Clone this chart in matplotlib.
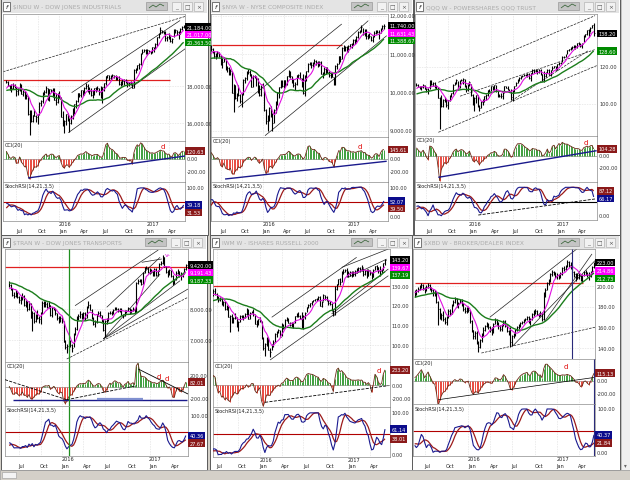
import numpy as np
import pandas as pd
import matplotlib
matplotlib.use("Agg")
import matplotlib.pyplot as plt
from matplotlib.patches import Rectangle
import matplotlib.transforms as mtrans

plt.rcParams['font.family'] = ['DejaVu Sans']
plt.rcParams['lines.solid_capstyle'] = 'butt'

W, H = 630, 481
dates = pd.date_range('2015-05-22', periods=108, freq='W-FRI')

# ---------------- DATA ----------------
indu_cl = [18232,18011,17849,17898,18015,17947,17730,17760,18086,17568,
 17690,17373,17477,16460,16643,16102,16433,16385,16315,16472,
 17084,17216,17647,17664,17910,17245,17824,17798,17848,17265,
 17128,17553,17425,16346,15988,16094,16466,16205,15974,16392,
 16640,17007,17213,17602,17516,17793,17577,17898,18004,17774,
 17741,17535,17501,17873,17807,17865,17675,17400,17949,18147,
 18516,18570,18432,18543,18576,18552,18395,18492,18085,18124,
 18261,18308,18240,18138,18146,18161,17888,18847,18868,19152,
 19171,19757,19843,19934,19763,19964,19886,19827,20094,20071,
 20269,20624,20822,21006,20903,20915,20597,20663,20656,20453,
 20548,20941,21007,20897,20804,21080,21206,21184]
indu_hi = [18351,18260,18050,18100,18150,18110,17960,17900,18140,18120,
 17760,17720,17560,17460,16710,16680,16450,16750,16450,16490,
 17120,17270,17650,17800,17980,17890,17830,17840,17880,17870,
 17620,17600,17720,17430,16630,16170,16510,16520,16260,16450,
 16800,17050,17220,17630,17630,17800,17800,17920,18170,18100,
 17950,17900,17760,17890,17940,18000,17910,18010,17950,18150,
 18540,18620,18620,18580,18670,18620,18600,18500,18530,18270,
 18360,18360,18360,18240,18200,18260,18180,18930,18950,19160,
 19230,19780,19990,19990,19990,19990,19970,19910,20130,20130,
 20300,20640,20850,21170,21010,21000,20980,20720,20890,20690,
 20600,21070,21070,21010,21000,21110,21230,21300]
indu_lo = [18160,17990,17800,17700,17850,17900,17470,17490,17720,17560,
 17460,17290,17290,16450,15370,16050,16030,16360,16040,15940,
 16440,16900,17080,17530,17620,17230,17210,17650,17430,17250,
 16990,17100,17370,16310,15840,15450,15870,16100,15500,15960,
 16200,16500,16830,17150,17430,17380,17480,17500,17850,17660,
 17570,17470,17330,17500,17650,17770,17530,17360,17060,17710,
 18080,18440,18310,18310,18460,18440,18320,18310,18080,17990,
 18050,18060,18180,17960,17980,18040,17880,17890,18700,18860,
 18940,19160,19740,19840,19720,19680,19810,19730,19790,19830,
 20000,20180,20580,20800,20840,20820,20410,20410,20550,20380,
 20300,20660,20880,20780,20550,20800,21050,21110]
indu_pre = [17390,17573,17634,17810,17828,17720,17280,17805,18053,17833,
 17737,17320,17511,17165,17673,17824,17973,18140,18133,17856,
 17995,17749,17712,17191,17577,17763,17826,18192,18272]

nya_cl = [11130,11050,10940,10950,11020,10960,10820,10800,10870,10600,
 10630,10500,10560,9990,10200,9860,9960,9930,9780,9950,
 10330,10370,10530,10520,10470,10150,10420,10400,10350,10000,
 9940,10150,10140,9530,9240,9380,9600,9430,9210,9530,
 9700,10000,10130,10300,10170,10310,10220,10420,10530,10420,
 10300,10200,10220,10440,10460,10380,10250,9990,10420,10550,
 10740,10770,10720,10770,10810,10790,10700,10790,10480,10490,
 10620,10640,10540,10460,10480,10400,10230,10690,10740,10940,
 10880,11160,11120,11170,11080,11220,11250,11240,11360,11350,
 11440,11580,11610,11700,11530,11630,11460,11490,11470,11360,
 11460,11550,11610,11580,11560,11660,11720,11740]
nya_hi = [11230,11160,11080,11030,11080,11060,10980,10900,10920,10880,
 10690,10660,10600,10560,10220,10200,9990,10180,9960,9970,
 10350,10400,10560,10620,10580,10480,10450,10460,10420,10370,
 10180,10180,10250,10120,9560,9400,9620,9650,9470,9560,
 9760,10020,10140,10330,10320,10330,10330,10430,10590,10560,
 10420,10350,10260,10450,10490,10520,10380,10480,10440,10560,
 10760,10800,10790,10800,10860,10840,10830,10810,10810,10540,
 10650,10660,10670,10560,10510,10520,10410,10710,10760,10950,
 10950,11170,11230,11200,11200,11240,11260,11280,11390,11380,
 11460,11590,11630,11760,11690,11660,11640,11520,11550,11480,
 11480,11590,11630,11630,11620,11680,11750,11790]
nya_lo = [11080,11020,10900,10860,10920,10910,10700,10640,10780,10590,
 10520,10450,10440,9980,9480,9830,9760,9900,9720,9620,
 9930,10250,10330,10470,10420,10130,10140,10370,10170,9980,
 9900,9910,10100,9500,9160,8980,9250,9350,9000,9200,
 9450,9680,9860,10100,10150,10110,10150,10180,10400,10380,
 10230,10150,10060,10200,10370,10370,10150,9960,9900,10300,
 10540,10700,10640,10650,10750,10720,10670,10680,10470,10370,
 10460,10490,10500,10400,10380,10390,10200,10190,10620,10740,
 10800,10870,11080,11090,11060,11060,11170,11160,11230,11250,
 11320,11430,11540,11580,11490,11480,11400,11400,11420,11330,
 11300,11440,11520,11540,11380,11560,11650,11660]
nya_pre = [10830,10900,10950,10990,11010,10880,10600,10900,10920,10810,
 10700,10450,10640,10500,10810,10960,11000,11060,11050,10900,
 11030,10840,10850,10630,10900,11020,10980,11140,11190]

qqq_cl = [110.5,109.2,108.6,108.9,110.0,108.0,107.9,107.3,112.4,110.6,
 111.5,109.0,109.6,103.2,103.1,99.0,102.3,101.8,99.4,101.9,
 104.3,105.9,110.4,111.1,112.9,108.5,112.9,113.1,113.5,109.6,
 107.6,110.2,111.9,104.6,101.1,103.3,104.6,99.0,97.6,101.3,
 102.0,104.3,104.9,107.3,107.1,109.5,108.1,110.1,106.9,104.3,
 104.5,104.1,106.0,109.6,108.7,108.0,106.5,103.8,107.3,109.7,
 111.4,113.3,113.8,115.1,115.3,115.6,115.4,116.2,113.8,116.5,
 118.2,118.0,118.1,117.4,118.3,116.1,112.6,115.3,117.0,118.5,
 115.9,118.4,119.5,120.4,118.5,121.4,122.4,122.4,125.3,125.6,
 127.0,128.9,129.6,130.4,130.8,131.5,131.2,132.8,132.6,131.2,
 132.6,136.6,137.7,139.7,138.4,141.2,142.4,138.2]
qqq_hi = [111.4,110.8,109.6,109.5,110.7,110.4,108.7,108.5,112.8,113.1,
 111.7,112.0,110.0,109.2,103.8,104.6,102.7,104.0,102.8,102.3,
 104.7,106.0,110.6,112.0,113.4,112.6,113.1,113.7,114.0,113.3,
 110.3,110.6,112.5,111.0,105.5,103.6,104.8,105.0,99.5,101.6,
 102.7,104.5,105.2,107.8,107.9,109.7,109.5,110.4,110.5,107.2,
 105.3,106.0,106.2,109.7,109.9,109.6,108.1,108.2,107.5,109.8,
 111.6,113.6,114.3,115.3,115.6,116.0,116.2,116.5,116.9,116.8,
 118.8,118.9,118.9,118.6,118.7,118.7,116.2,117.7,117.5,118.8,
 119.0,118.6,120.5,120.6,120.7,121.8,122.6,122.7,125.7,125.9,
 127.2,129.1,129.8,131.0,131.2,131.6,132.1,133.0,133.5,133.1,
 133.1,137.2,137.8,140.0,140.4,141.4,142.8,143.6]
qqq_lo = [109.8,108.9,108.0,107.8,108.6,107.9,106.5,105.3,108.2,110.4,
 109.6,108.5,108.2,103.1,86.5,98.2,98.5,100.9,98.6,97.4,
 101.8,103.8,105.4,110.0,110.8,108.3,108.6,112.6,110.7,109.4,
 106.7,107.0,109.8,104.3,99.2,96.1,100.4,98.6,96.1,98.0,
 99.5,101.2,102.3,104.4,106.5,106.8,107.4,107.6,106.5,104.0,
 103.6,103.4,102.8,106.2,108.4,107.6,106.2,102.1,101.6,106.6,
 109.5,111.3,112.5,113.4,114.8,114.9,114.9,114.8,113.7,112.6,
 116.3,116.9,117.5,116.4,116.8,115.9,112.4,111.8,114.5,116.9,
 115.5,115.2,118.1,119.3,118.3,118.4,121.2,121.4,122.6,124.6,
 125.2,126.9,128.5,128.9,129.7,130.2,129.8,130.5,131.8,130.8,
 130.3,133.4,136.3,137.3,136.2,138.7,140.9,136.6]
qqq_pre = [99.7,101.1,101.6,103.5,104.8,105.0,103.2,104.7,106.0,104.4,
 103.2,101.5,102.9,101.6,104.1,104.9,106.0,108.4,108.5,107.0,
 108.4,106.3,106.4,104.0,107.2,108.9,108.4,108.8,110.1]

tran_cl = [8780,8650,8450,8430,8520,8380,8280,8330,8420,8140,
 8250,8000,8190,7720,7880,7620,7800,7700,7680,7860,
 8200,8100,8170,8080,8120,7800,8030,8010,7860,7700,
 7620,7700,7600,6950,6780,6790,6920,6840,6730,7200,
 7370,7750,7780,7850,7720,7880,7700,8050,8120,7980,
 7700,7500,7580,7830,7860,7800,7620,7320,7620,7630,
 7860,7880,7850,7980,8030,8000,7950,8010,7820,7780,
 7930,7950,8020,7880,7970,8010,7900,8850,8900,8950,
 8800,9170,9320,9320,9180,9290,9200,9100,9290,9110,
 9230,9450,9480,9690,9380,9180,9120,9260,9080,8830,
 8950,9170,9210,9060,9060,9140,9280,9420]
tran_hi = [8900,8800,8690,8560,8610,8560,8420,8420,8500,8450,
 8300,8270,8250,8200,7920,7890,7850,7960,7780,7900,
 8250,8260,8260,8240,8260,8130,8070,8080,8040,7880,
 7760,7760,7780,7620,7000,6880,6960,7010,6870,7220,
 7420,7780,7850,7920,7880,7900,7900,8100,8250,8150,
 8000,7750,7640,7850,7920,7950,7810,7680,7650,7700,
 7890,7940,7930,8000,8060,8060,8040,8040,8040,7850,
 7960,7980,8070,8030,7990,8050,8030,8880,8980,8980,
 8960,9200,9360,9390,9350,9330,9290,9230,9330,9310,
 9260,9480,9540,9740,9690,9400,9250,9290,9270,9090,
 8980,9230,9280,9220,9180,9170,9310,9460]
tran_lo = [8720,8600,8420,8360,8390,8340,8200,8160,8300,8110,
 8080,7950,7980,7700,7280,7560,7580,7680,7560,7520,
 7850,8060,8050,8040,8020,7780,7750,7970,7820,7650,
 7560,7580,7550,6940,6700,6580,6660,6780,6620,6780,
 7150,7330,7650,7720,7690,7660,7650,7700,8020,7960,
 7680,7470,7420,7550,7780,7750,7580,7300,7100,7530,
 7620,7830,7790,7840,7960,7960,7900,7900,7800,7700,
 7760,7860,7930,7850,7860,7920,7880,7900,8820,8860,
 8760,8800,9150,9280,9150,9130,9150,9060,9080,9080,
 9080,9230,9420,9450,9350,9150,9040,9100,9040,8780,
 8800,8940,9130,9030,8950,9030,9120,9260]
tran_pre = [8560,8730,8900,8990,9110,9100,8870,9140,9200,9000,
 8900,8600,8770,8620,8860,8870,8980,9100,9050,8860,
 8940,8700,8650,8450,8570,8660,8540,8750,8800]

iwm_cl = [126.5,124.6,124.6,125.2,127.6,126.0,124.6,123.0,123.2,120.5,
 122.0,118.6,119.8,114.3,115.0,112.1,114.0,113.9,109.9,111.9,
 114.6,115.0,114.4,115.7,118.4,113.5,116.5,117.1,116.0,111.0,
 110.8,113.2,112.6,103.7,98.5,100.5,103.2,97.7,96.6,100.7,
 101.6,105.8,106.9,107.9,104.2,111.0,108.6,112.8,113.7,111.5,
 110.4,110.6,111.1,114.8,116.2,114.7,114.0,109.7,115.0,116.6,
 119.4,120.5,121.2,122.5,122.8,123.2,123.2,124.6,120.1,122.0,
 125.4,124.2,122.7,121.2,121.1,117.8,115.6,128.6,130.8,133.4,
 131.8,137.3,136.9,138.3,134.9,136.6,137.0,135.3,136.9,137.5,
 138.0,139.2,138.8,139.5,135.9,137.7,135.3,137.9,136.4,134.5,
 138.2,140.0,139.5,137.7,137.5,138.3,141.5,143.2]
iwm_hi = [128.0,126.9,125.2,125.8,128.5,129.1,126.3,124.8,124.2,123.8,
 122.4,122.3,120.2,120.1,115.3,115.8,114.5,116.6,114.3,112.2,
 115.4,115.5,115.5,116.4,118.8,118.3,116.8,117.4,118.5,116.1,
 113.0,113.5,114.4,112.3,104.3,101.2,104.0,104.4,98.8,100.9,
 102.7,106.4,107.3,108.5,108.0,111.4,111.0,113.1,114.2,113.9,
 111.8,111.8,111.4,115.0,116.6,117.0,115.4,117.0,115.2,116.8,
 119.6,120.7,121.6,122.6,123.1,123.5,124.0,124.9,124.9,122.3,
 126.0,125.6,125.0,122.8,122.4,121.6,118.0,130.0,131.0,133.6,
 134.0,137.6,138.5,138.7,139.0,137.8,137.4,137.4,137.8,138.1,
 138.9,139.7,139.8,140.8,139.3,138.2,138.4,138.7,138.2,137.0,
 138.5,140.3,140.6,139.6,139.9,138.6,141.8,143.6]
iwm_lo = [125.2,124.3,123.6,124.0,125.0,125.6,123.2,121.8,122.6,120.3,
 119.9,117.9,117.7,114.2,106.8,111.3,111.5,113.3,109.5,107.4,
 111.7,113.9,112.9,113.9,115.6,113.2,113.1,116.4,114.9,110.6,
 109.4,110.2,111.9,103.4,97.9,94.8,99.6,97.5,94.1,97.5,
 99.4,101.5,104.4,106.1,104.0,104.6,108.1,108.7,112.2,111.1,
 109.6,109.4,108.7,111.4,114.3,114.5,113.1,109.0,108.3,113.5,
 116.7,119.0,119.6,120.4,122.0,122.4,122.6,122.8,120.0,119.2,
 122.4,122.8,122.3,120.4,120.4,117.6,114.9,115.2,127.9,130.6,
 130.6,131.9,136.0,137.2,134.6,134.4,135.2,134.6,135.2,135.3,
 136.7,137.8,137.2,137.7,135.2,135.4,134.1,134.9,135.5,133.4,
 134.5,138.0,137.9,136.8,134.9,136.6,138.2,140.7]
iwm_pre = [114,118,119,119,120,118,116,119,122,119,
 121,118,119,117,121,122,123,125,124,123,
 126,124,124,124,124,125,124,126,126]

xbd_cl = [193,195,197,199,201,198,196,199,201,197,
 196,193,194,185,178,170,172,168,165,170,
 176,174,182,185,188,181,184,186,183,178,
 176,178,177,166,158,152,155,146,141,148,
 153,158,161,163,160,158,156,163,167,164,
 161,159,162,166,161,157,155,146,152,153,
 158,160,162,164,165,167,168,170,165,168,
 173,175,176,173,172,174,168,192,196,203,
 205,212,214,213,210,211,209,212,218,217,
 220,224,221,220,214,212,208,211,210,207,
 211,214,213,211,210,214,219,223]
xbd_hi = [196,197,199,201,203,202,199,201,203,202,
 199,197,196,195,186,179,174,176,170,171,
 178,178,183,187,190,189,185,188,188,184,
 180,180,180,177,167,158,157,157,147,149,
 155,160,162,165,164,161,160,164,169,168,
 165,162,163,167,167,162,158,160,153,155,
 159,161,163,165,166,168,169,171,171,169,
 174,177,178,177,174,176,175,194,198,204,
 207,213,216,215,214,213,212,214,219,220,
 221,226,225,224,221,215,213,213,213,211,
 212,215,216,214,214,215,220,224]
xbd_lo = [190,192,194,196,198,196,193,195,198,196,
 194,191,191,184,162,168,167,166,163,162,
 169,172,173,181,184,180,179,184,181,176,
 174,174,175,164,156,149,149,144,136,140,
 146,152,157,160,159,156,153,155,163,162,
 159,157,157,161,160,156,153,141,142,150,
 152,157,159,160,163,164,166,167,164,162,
 167,171,173,172,170,171,166,167,190,196,
 201,204,210,211,208,207,207,208,211,215,
 216,219,219,217,212,209,205,207,207,205,
 204,210,211,209,206,209,213,218]
xbd_pre = [180,183,186,188,190,189,186,188,190,187,
 185,181,183,182,187,190,192,195,194,191,
 193,190,190,188,192,195,196,197,195]

titles = ["$INDU W - DOW JONES INDUSTRIALS",
          "$NYA W - NYSE COMPOSITE INDEX",
          "QQQ W - POWERSHARES QQQ TRUST",
          "$TRAN W - DOW JONES TRANSPORTS",
          "IWM W - ISHARES RUSSELL 2000",
          "$XBD W - BROKER/DEALER INDEX"]

# drawn trend lines: (bar0, value0, bar1, value1, style)
indu_lines = [(-2, 18768, 107.8, 21757, '--'), (39.4, 17638, 104.8, 21540, '-'),
              (37.4, 15476, 108.8, 20070, '-')]
nya_lines = [(16.9, 9608, 80.9, 11783, '-'), (33.4, 8867, 108.7, 11478, '-'),
             (77.8, 11130, 97.3, 11870, '-')]
qqq_lines = [(13.2, 111.7, 107.8, 147.7, '--'), (13.2, 84.7, 108.8, 120.7, '--'),
             (57.5, 101.8, 103.7, 128.8, '--'), (26.3, 104.2, 107.8, 129.4, '--')]
tran_lines = [(39.9, 8106, 90.3, 9903, '-'), (34.9, 6387, 108.3, 8377, '--'),
              (57.0, 7032, 91.4, 9129, '-'), (57.0, 7032, 103.5, 8913, '-'),
              (57.0, 7032, 108.3, 8645, '-'), (59.1, 8055, 91.4, 9668, '-'),
              (80.3, 9506, 92.4, 9613, '-')]
iwm_lines = [(39.1, 114.2, 90.0, 144.5, '-'), (38.1, 92.6, 109.0, 135.2, '-'),
             (81.0, 139.4, 109.0, 148.7, '-'), (85.0, 134.4, 108.0, 143.6, '-'),
             (75.0, 115.9, 109.0, 138.6, '-')]
xbd_lines = [(39.8, 135.2, 107.6, 160.2, '--'), (44.8, 169.9, 96.7, 236.2, '-'),
             (58.7, 142.3, 107.6, 224.9, '-'), (77.6, 166.0, 105.8, 231.4, '-')]

# support / resistance levels: (bar0, bar1, value)
indu_res = (-2, 98.7, 18308)
nya_res = (0.4, 80.9, 11227)
tran_res = (-2.5, 108.3, 9345)
iwm_res = (3.9, 110, 129.85)
xbd_res = (0.2, 100.4, 202.9)

# CCI trend lines: (bar0, v0, bar1, v1, color, style, width)
indu_cci_lines = [(13.1, -292, 107.8, 46, '#1a1a8c', '-', 1.0)]
nya_cci_lines = [(8.7, -308, 108.7, -35, '#1a1a8c', '-', 1.0)]
qqq_cci_lines = [(13.2, -349, 108.8, 77, '#1a1a8c', '-', 1.0)]
tran_cci_lines = [(2.3, -212, 107.5, -212, '#1a1a8c', '-', 1.0),
                  (53, -205, 81.2, -205, '#8090d0', '-', 1.6),
                  (-2.5, 122, 34.9, -212, 'black', '--', 0.6),
                  (34.9, -212, 77.2, 22, 'black', '--', 0.6),
                  (78.2, 300, 108.3, -117, 'black', '-', 0.6)]
iwm_cci_lines = [(35.1, -266, 109.0, -10, 'black', '--', 0.6)]
xbd_cci_lines = [(14.1, -292, 107.6, 52, 'black', '-', 0.5)]

# 'd' marks on CCI: (bar, value, text)
indu_marks = [(94.6, 200, 'd')]
nya_marks = [(92.2, 205, 'd')]
qqq_marks = [(102.2, 211, 'd')]
tran_marks = [(90.9, 188, 'd'), (95.4, 150, 'd')]
iwm_marks = [(103.0, 231, 'd')]
xbd_marks = [(90.3, 230, 'd')]

# --------------- FIGURE ---------------
fig = plt.figure(figsize=(W / 100, H / 100), dpi=100)
fig.patch.set_facecolor('#d4d0c8')
bg = fig.add_axes([0, 0, 1, 1])
bg.set_xlim(0, W)
bg.set_ylim(H, 0)
bg.axis('off')

def pax(x0, y0, x1, y1):
    return fig.add_axes([x0 / W, 1 - y1 / H, (x1 - x0) / W, (y1 - y0) / H])

def window(x0, y0, x1, y1, title):
    bg.add_patch(Rectangle((x0, y0), x1 - x0, y1 - y0, facecolor='white',
                           edgecolor='#5a5a5a', lw=0.7))
    bg.add_patch(Rectangle((x0 + 1, y0 + 1), x1 - x0 - 2, 13, facecolor='#e4e4e4',
                           edgecolor='none'))
    bg.add_patch(Rectangle((x0 + 2, y0 + 3), 7, 9, facecolor='white',
                           edgecolor='#444', lw=0.5))
    bg.text(x0 + 5.5, y0 + 7.6, 'f', fontsize=4.5, ha='center', va='center',
            style='italic', color='#111')
    bg.text(x0 + 12, y0 + 7.5, title, fontsize=4.2, color='#ababab',
            va='center', ha='left')
    bg.add_patch(Rectangle((x1 - 62, y0 + 3), 21, 8, facecolor='#c4c4c4',
                           edgecolor='#8a8a8a', lw=0.4))
    bg.plot([x1 - 59, x1 - 55, x1 - 52, x1 - 48, x1 - 44],
            [y0 + 9, y0 + 6, y0 + 8, y0 + 5, y0 + 7], color='#2a5a2a', lw=0.5)
    for k, sym in enumerate(['_', '□', '×']):
        bx = x1 - 36 + k * 11
        bg.add_patch(Rectangle((bx, y0 + 3), 9, 9, facecolor='#f2f2f2',
                               edgecolor='#a8a8a8', lw=0.4))
        bg.text(bx + 4.5, y0 + 7.3, sym, fontsize=4.2, ha='center', va='center',
                color='#555')

def style_ax(ax, xlim, ylim):
    ax.set_xlim(*xlim)
    ax.set_ylim(*ylim)
    ax.set_xticks([])
    ax.set_yticks([])
    ax.set_facecolor('white')
    for s in ax.spines.values():
        s.set_color('#8c8c8c')
        s.set_linewidth(0.5)

def rlabel(ax, v, s, width_px, color='#333', box=None, z=3):
    tr = mtrans.blended_transform_factory(ax.transAxes, ax.transData)
    kw = dict(fontsize=3.6, va='center', ha='left', clip_on=False, transform=tr, zorder=z)
    if box is None:
        ax.text(1 + 2.0 / width_px, v, s, color=color, **kw)
    else:
        ax.text(1 + 1.5 / width_px, v, s, color='white',
                bbox=dict(boxstyle='square,pad=0.25', fc=box, ec='none'), **kw)

def to_px(v, lim, top_px, bot_px):
    return top_px + (lim[1] - v) * (bot_px - top_px) / (lim[1] - lim[0])

def stack(vals, lim, top_px, bot_px, gap):
    # vals: list of (value, label, color) -> positions separated by gap px
    scale = (bot_px - top_px) / (lim[1] - lim[0])
    ys = [(to_px(v, lim, top_px, bot_px), s, c) for v, s, c in vals]
    ys.sort(key=lambda t: t[0])
    out, prev = [], None
    for y, s, c in ys:
        y = min(max(y, top_px + 4), bot_px - 4)
        if prev is not None:
            y = max(y, prev + gap)
        prev = y
        out.append((lim[1] - (y - top_px) / scale, s, c, y))
    return out

def tick_labels(ax, items, boxes_px, lim, top_px, bot_px, wpx):
    for v, s in items:
        yp = to_px(v, lim, top_px, bot_px)
        if all(abs(yp - b) > 6.5 for b in boxes_px):
            rlabel(ax, v, s, wpx)

qticks = []
for i in range(1, len(dates)):
    if dates[i].month != dates[i - 1].month and dates[i].month in (1, 4, 7, 10):
        qticks.append(i)
mon = {1: 'Jan', 4: 'Apr', 7: 'Jul', 10: 'Oct'}

def chart(g, cl, hi, lo, pre, lines, res, cci_lines, marks, fmt, pticks,
          mid_color='#b00000', show_mag=True, extra=None):
    cl = np.array(cl, float); hi = np.array(hi, float); lo = np.array(lo, float)
    n0 = len(pre)
    full = pd.Series(np.r_[pre, cl])
    ma_s = full.rolling(7).mean().values[n0:]
    ma_l = full.rolling(30).mean().values[n0:]
    tp = pd.Series(np.r_[pre, (hi + lo + cl) / 3.0])
    sma = tp.rolling(20).mean()
    md = tp.rolling(20).apply(lambda a: np.mean(np.abs(a - a.mean())), raw=True)
    cci = ((tp - sma) / (0.015 * md)).values[n0:]
    dlt = full.diff()
    au = dlt.clip(lower=0).ewm(alpha=1 / 14, adjust=False).mean()
    ad = (-dlt.clip(upper=0)).ewm(alpha=1 / 14, adjust=False).mean()
    rsi = 100 - 100 / (1 + au / ad)
    rmin = rsi.rolling(21, min_periods=8).min()
    rmax = rsi.rolling(21, min_periods=8).max()
    srsi = (rsi - rmin) / (rmax - rmin) * 100
    kf = srsi.rolling(3, min_periods=1).mean()
    ks = kf.rolling(5, min_periods=1).mean()
    kf = kf.values[n0:]; ks = ks.values[n0:]

    x = np.arange(len(cl))
    L, R = g['L'], g['R']
    wpx = R - L
    axp = pax(L, g['pt'], R, g['pb'])
    axc = pax(L, g['pb'], R, g['cb'])
    axs = pax(L, g['cb'], R, g['sb'])
    axd = pax(L, g['sb'], R, g['db'])
    style_ax(axp, g['xlim'], g['plim'])
    style_ax(axc, g['xlim'], g['clim'])
    style_ax(axs, g['xlim'], g['slim'])
    axd.set_xlim(*g['xlim']); axd.set_ylim(0, 1); axd.axis('off')

    for ax in (axp, axc, axs):
        for t in qticks:
            ax.axvline(t, color='#c4c4c4', lw=0.4, ls=(0, (1, 2)), zorder=0)
    for v in pticks:
        axp.axhline(v, color='#c4c4c4', lw=0.4, ls=(0, (1, 2)), zorder=0)

    # price
    axp.hlines(res[2], res[0], res[1], color='#e02020', lw=0.9, zorder=2)
    for (a0, v0, a1, v1, ls) in lines:
        axp.plot([a0, a1], [v0, v1], color='#222', lw=0.5, ls=ls, zorder=2)
    axp.vlines(x, lo, hi, color='black', lw=0.8, zorder=3)
    axp.hlines(cl, x, x + 0.55, color='black', lw=0.6, zorder=3)
    axp.plot(x, ma_l, color='#1b7d1b', lw=1.0, zorder=4)
    axp.plot(x, ma_s, color='#e010e0', lw=0.8, zorder=4)
    vals = [(cl[-1], fmt(cl[-1]), 'black'), (ma_l[-1], fmt(ma_l[-1]), '#008a00')]
    if show_mag:
        vals.append((ma_s[-1], fmt(ma_s[-1]), '#ff00ff'))
    placed = stack(vals, g['plim'], g['pt'], g['pb'], 7.5)
    for v, s, c, yp in placed:
        rlabel(axp, v, s, wpx, box=c, z=6)
    tick_labels(axp, [(v, fmt(v)) for v in pticks], [p[3] for p in placed],
                g['plim'], g['pt'], g['pb'], wpx)

    # CCI
    pos = cci >= 0
    axc.vlines(x[pos], 0, cci[pos], color='#3e9e3e', lw=0.7, zorder=2)
    axc.vlines(x[~pos], 0, cci[~pos], color='#e84a40', lw=0.7, zorder=2)
    axc.plot(x, cci, color='#6a2a18', lw=0.6, zorder=3)
    axc.axhline(0, color='#707070', lw=0.4, zorder=1)
    for (a0, v0, a1, v1, c, ls, lw) in cci_lines:
        axc.plot([a0, a1], [v0, v1], color=c, ls=ls, lw=lw, zorder=4)
    for (a, v, s) in marks:
        axc.text(a, v, s, color='#e00000', fontsize=5, ha='center', va='center',
                 zorder=5)
    cpl = stack([(cci[-1], f"{cci[-1]:.2f}", '#8b1a1a')], g['clim'], g['pb'], g['cb'], 7)
    for v, s, c, yp in cpl:
        rlabel(axc, v, s, wpx, box=c, z=6)
    tick_labels(axc, [(200, '200.00'), (0, '0.00'), (-200, '-200.00')],
                [p[3] for p in cpl], g['clim'], g['pb'], g['cb'], wpx)
    axc.text(0.01, 0.97, 'CCI(20)', transform=axc.transAxes, fontsize=3.6,
             va='top', ha='left', color='#222')

    # Stochastic RSI
    axs.axhline(50, color=mid_color, lw=0.8, zorder=1)
    axs.plot(x, ks, color='#9c1a1a', lw=0.9, zorder=3)
    axs.plot(x, kf, color='#1a1a90', lw=0.8, zorder=3)
    svals = [(kf[-1], f"{kf[-1]:.2f}", '#0c0c8c'), (ks[-1], f"{ks[-1]:.2f}", '#8b1a1a')]
    spl = stack(svals, g['slim'], g['cb'], g['sb'], 7.5)
    for v, s, c, yp in spl:
        rlabel(axs, v, s, wpx, box=c, z=6)
    sitems = [(100, '100.00'), (0, '0.00')] + ([(50, '50.00')] if g.get('s50') else [])
    tick_labels(axs, sitems, [p[3] for p in spl], g['slim'], g['cb'], g['sb'], wpx)
    axs.text(0.01, 0.97, 'StochRSI(14,21,3,5)', transform=axs.transAxes,
             fontsize=3.6, va='top', ha='left', color='#222')

    # dates
    for t in qticks:
        if g['xlim'][0] <= t <= g['xlim'][1] - 2:
            axd.text(t - 0.3, 0.28, mon[dates[t].month], fontsize=3.6, ha='left',
                     va='center', color='#222')
            if dates[t].month == 1:
                axd.text(t - 0.3, 0.78, str(dates[t].year), fontsize=3.6, ha='left',
                         va='center', color='#222')
    if extra:
        extra(axp, axc, axs)

f_th = lambda v: f"{v:,.2f}"
f_pl = lambda v: f"{v:.2f}"

wins = [(1, 0, 208, 236), (210, 0, 413, 236), (414, 0, 620, 236),
        (1, 236, 207, 471), (210, 236, 413, 471), (412, 236, 620, 471)]
for (wx0, wy0, wx1, wy1), t in zip(wins, titles):
    window(wx0, wy0, wx1, wy1, t)

G_TL = dict(L=3, R=185, pt=15, pb=142, cb=183, sb=222, db=235, xlim=(-2, 107.8),
            plim=(15027, 21892), clim=(-354, 277), slim=(-18, 121))
G_TM = dict(L=211, R=388, pt=15, pb=138, cb=183, sb=222, db=235, xlim=(0, 109.5),
            plim=(8833, 12044), clim=(-354, 338), slim=(-16.6, 117.7))
G_TR = dict(L=415, R=597, pt=15, pb=137, cb=183, sb=221, db=235, xlim=(-0.9, 109),
            plim=(82.7, 148.6), clim=(-424, 312), slim=(-15, 118.7), s50=True)
G_BL = dict(L=5, R=188, pt=250, pb=363, cb=407, sb=457, db=470, xlim=(-2.5, 108.3),
            plim=(6290, 9935), clim=(-317, 417), slim=(-21, 129))
G_BM = dict(L=213, R=390, pt=250, pb=363, cb=408, sb=458, db=470, xlim=(3.9, 110),
            plim=(91.6, 148.7), clim=(-338, 354), slim=(-5.5, 114))
G_BR = dict(L=413, R=595, pt=250, pb=360, cb=405, sb=457, db=470, xlim=(-1, 107.6),
            plim=(129.4, 236.2), clim=(-358, 334), slim=(-8.5, 111.5))

chart(G_TL, indu_cl, indu_hi, indu_lo, indu_pre, indu_lines, indu_res,
      indu_cci_lines, indu_marks, f_th, [16000, 18000])
chart(G_TM, nya_cl, nya_hi, nya_lo, nya_pre, nya_lines, nya_res,
      nya_cci_lines, nya_marks, f_th, [9000, 10000, 11000, 12000])

def qqq_extra(axp, axc, axs):
    axs.plot([37.3, 107.8], [2.5, 59], color='black', lw=0.6, ls='--', zorder=4)

chart(G_TR, qqq_cl, qqq_hi, qqq_lo, qqq_pre, qqq_lines, (0, 0, -999),
      qqq_cci_lines, qqq_marks, f_pl, [100, 120], mid_color='black',
      show_mag=False, extra=qqq_extra)

def tran_extra(axp, axc, axs):
    for ax in (axp, axc, axs):
        ax.axvline(36.3, color='#1f8f1f', lw=0.9, zorder=5)
    axp.text(95.8, 9752, 'v-', color='#e010e0', fontsize=4.5, ha='center',
             va='center', zorder=6)

chart(G_BL, tran_cl, tran_hi, tran_lo, tran_pre, tran_lines, tran_res,
      tran_cci_lines, tran_marks, f_th, [7000, 8000], extra=tran_extra)
chart(G_BM, iwm_cl, iwm_hi, iwm_lo, iwm_pre, iwm_lines, iwm_res,
      iwm_cci_lines, iwm_marks, f_pl, [100, 110, 120, 130])

def xbd_extra(axp, axc, axs):
    axp.axvline(93.7, color='#2a2a7a', lw=0.8, zorder=5)
    axc.axvline(107.2, color='#2a2a7a', lw=0.8, zorder=5)
    axs.axvline(107.2, color='#2a2a7a', lw=0.8, zorder=5)

chart(G_BR, xbd_cl, xbd_hi, xbd_lo, xbd_pre, xbd_lines, xbd_res,
      xbd_cci_lines, xbd_marks, f_pl, [140, 160, 180, 200], extra=xbd_extra)

# scroll bar and bottom strip
bg.add_patch(Rectangle((621, 0), 9, 471, facecolor='#f0f0f0', edgecolor='#b4b4b4', lw=0.5))
bg.text(625.5, 466, '▾', fontsize=4, ha='center', va='center', color='#666')
bg.add_patch(Rectangle((0, 471), W, 10, facecolor='#d4d0c8', edgecolor='#a0a0a0', lw=0.5))
bg.add_patch(Rectangle((2, 473), 14, 6, facecolor='#f4f4f4', edgecolor='#999', lw=0.4))

fig.savefig('out.png', dpi=100, facecolor=fig.get_facecolor())
